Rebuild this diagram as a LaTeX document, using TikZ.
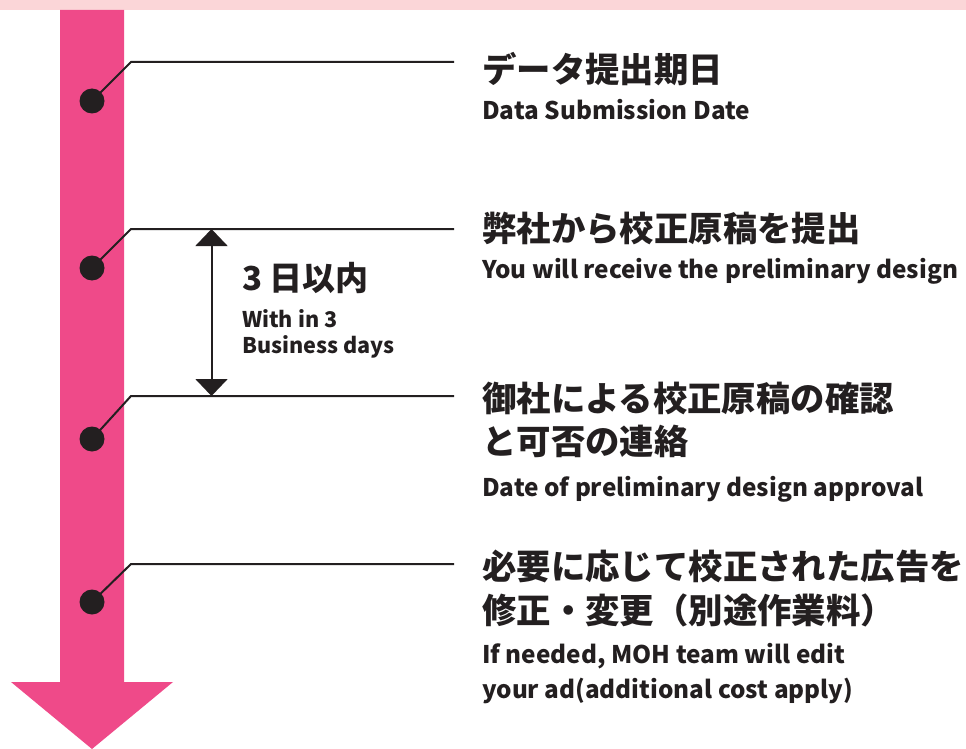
\documentclass[tikz,border=0pt]{standalone}
\usepackage{fontspec}
\setmainfont{Noto Sans CJK JP}
\usetikzlibrary{arrows.meta}
\definecolor{band}{RGB}{251,214,216}
\definecolor{shaft}{RGB}{239,74,137}
\definecolor{ink}{RGB}{35,31,32}
\begin{document}
\begin{tikzpicture}[x=1pt,y=-1pt,
  jp/.style={anchor=base west,inner sep=0pt,font=\fontsize{34.4}{40}\selectfont\bfseries,text=ink},
  jpsmall/.style={anchor=base west,inner sep=0pt,font=\fontsize{33}{38}\selectfont\bfseries,text=ink},
  en/.style={anchor=base west,inner sep=0pt,font=\fontsize{24.3}{28}\selectfont\bfseries,text=ink},
  ensmall/.style={anchor=base west,inner sep=0pt,font=\fontsize{21.6}{26}\selectfont\bfseries,text=ink},
  leader/.style={draw=ink,line width=2pt},
  dotnode/.style={circle,fill=ink,minimum size=25pt,inner sep=0pt}]
\useasboundingbox (0,0) rectangle (966,749);
% background band
\fill[band] (0,0) rectangle (966,10);
% big arrow
\fill[shaft] (60,10) -- (124,10) -- (124,682) -- (173,682) -- (92,749) -- (11,682) -- (60,682) -- cycle;
% dots
\node[dotnode] (d1) at (92,101) {};
\node[dotnode] (d2) at (92,268) {};
\node[dotnode] (d3) at (92,439) {};
\node[dotnode] (d4) at (92,602) {};
% leader coordinates
\coordinate (b1) at (131,62);  \coordinate (e1) at (454,62);
\coordinate (b2) at (131,229); \coordinate (e2) at (454,229);
\coordinate (b3) at (131,396); \coordinate (e3) at (454,396);
\coordinate (b4) at (131,564); \coordinate (e4) at (454,564);
\draw[leader] (d1.center) -- (b1) -- (e1);
\draw[leader] (d2.center) -- (b2) -- (e2);
\draw[leader] (d3.center) -- (b3) -- (e3);
\draw[leader] (d4.center) -- (b4) -- (e4);
% duration arrow
\coordinate (a1) at (211.5,229);
\coordinate (a2) at (211.5,396);
\draw[draw=ink,line width=2pt,{Triangle[width=32pt,length=17pt]}-{Triangle[width=32pt,length=17pt]}] (a1) -- (a2);
\node[jpsmall] (dur) at (242,290) {3 日以内};
\node[ensmall] (dure1) at (242,327) {With in 3};
\node[ensmall] (dure2) at (242,353) {Business days};
% step texts
\node[jp] (t1) at (482,83) {データ提出期日};
\node[en] (s1) at (482,120) {Data Submission Date};
\node[jp] (t2) at (482,241) {弊社から校正原稿を提出};
\node[en] (s2) at (482,278) {You will receive the preliminary design};
\node[jp] (t3a) at (482,411) {御社による校正原稿の確認};
\node[jp] (t3b) at (482,454) {と可否の連絡};
\node[en] (s3) at (482,496) {Date of preliminary design approval};
\node[jp] (t4a) at (482,579) {必要に応じて校正された広告を};
\node[jp] (t4b) at (482,623) {修正・変更（別途作業料）};
\node[en] (s4a) at (482,663) {If needed, MOH team will edit};
\node[en] (s4b) at (482,698) {your ad(additional cost apply)};
\end{tikzpicture}
\end{document}
